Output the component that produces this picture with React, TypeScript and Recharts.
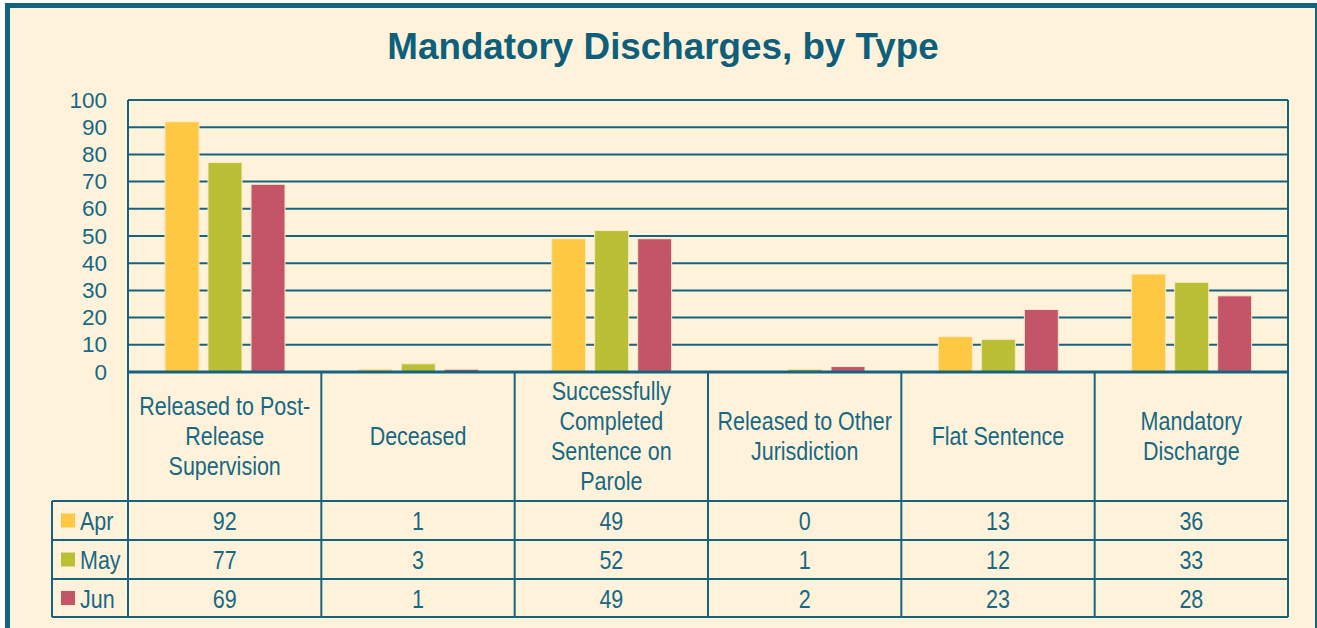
import React from 'react';
import { BarChart, Bar, XAxis, YAxis, CartesianGrid } from 'recharts';

const categories = [
  'Released to Post-Release Supervision',
  'Deceased',
  'Successfully Completed Sentence on Parole',
  'Released to Other Jurisdiction',
  'Flat Sentence',
  'Mandatory Discharge',
];
// wrapped tick labels, as printed in the table header row
const categoryLines = [
  ['Released to Post-', 'Release', 'Supervision'],
  ['Deceased'],
  ['Successfully', 'Completed', 'Sentence on', 'Parole'],
  ['Released to Other', 'Jurisdiction'],
  ['Flat Sentence'],
  ['Mandatory', 'Discharge'],
];
const seriesNames = ['Apr', 'May', 'Jun'];
const aprValues = [92, 1, 49, 0, 13, 36];
const mayValues = [77, 3, 52, 1, 12, 33];
const junValues = [69, 1, 49, 2, 23, 28];
const yTicks = [0, 10, 20, 30, 40, 50, 60, 70, 80, 90, 100];

const seriesValues = [aprValues, mayValues, junValues];
const seriesColors = ['#ffc842', '#bbbf35', '#c45468'];

const data = categories.map((name, i) => ({
  name,
  Apr: aprValues[i],
  May: mayValues[i],
  Jun: junValues[i],
}));

// layout
const W = 1317;
const H = 628;
const PLOT_L = 128;
const PLOT_R = 1288;
const PLOT_T = 100;
const AXIS_Y = 372;
const HEAD_B = 501;
const ROW_B = [540, 579, 617];
const LEGEND_L = 52;

const TEAL = '#15637f';
const TEXT = '#176885';
const BG = '#fef3da';
const SANS = '"Liberation Sans", Arial, sans-serif';

// no narrow face installed: squeeze Liberation Sans horizontally instead
const NarrowText = ({ x, y, anchor = 'middle', children }: any) => (
  <g transform={`translate(${x},${y}) scale(0.86,1)`}>
    <text x={0} y={0} textAnchor={anchor} dominantBaseline="central" fontFamily={SANS} fontSize={25} fill={TEXT}>
      {children}
    </text>
  </g>
);

const TableTick = (props: any) => {
  const { x, index } = props;
  const band = (PLOT_R - PLOT_L) / categories.length;
  const left = x - band / 2;
  const right = x + band / 2;
  const lines = categoryLines[index] || [];
  const mid = (AXIS_Y + HEAD_B) / 2;
  const lh = 30;
  const rowTops = [HEAD_B, ROW_B[0], ROW_B[1]];
  const bottom = ROW_B[ROW_B.length - 1];
  const last = index === categories.length - 1;

  return (
    <g>
      {/* cell borders */}
      <line x1={left} x2={left} y1={index === 0 ? PLOT_T : AXIS_Y} y2={bottom} stroke={TEAL} strokeWidth={2} />
      {last ? <line x1={right} x2={right} y1={PLOT_T} y2={bottom} stroke={TEAL} strokeWidth={2} /> : null}
      {[HEAD_B, ...ROW_B].map((yy) => (
        <line key={yy} x1={left} x2={right} y1={yy} y2={yy} stroke={TEAL} strokeWidth={2} />
      ))}

      {/* header label */}
      {lines.map((t, k) => (
        <NarrowText key={k} x={x} y={mid + (k - (lines.length - 1) / 2) * lh}>
          {t}
        </NarrowText>
      ))}

      {/* values */}
      {seriesValues.map((vals, s) => (
        <NarrowText key={s} x={x} y={(rowTops[s] + ROW_B[s]) / 2 + 1}>
          {vals[index]}
        </NarrowText>
      ))}

      {/* legend column, drawn once */}
      {index === 0 ? (
        <g>
          <line x1={LEGEND_L} x2={LEGEND_L} y1={HEAD_B} y2={bottom} stroke={TEAL} strokeWidth={2} />
          {[HEAD_B, ...ROW_B].map((yy) => (
            <line key={yy} x1={LEGEND_L} x2={left} y1={yy} y2={yy} stroke={TEAL} strokeWidth={2} />
          ))}
          {seriesNames.map((n, s) => {
            const cy = (rowTops[s] + ROW_B[s]) / 2;
            return (
              <g key={n}>
                <rect x={61} y={cy - 7} width={14} height={14} fill={seriesColors[s]} />
                <NarrowText x={80} y={cy + 1} anchor="start">
                  {n}
                </NarrowText>
              </g>
            );
          })}
        </g>
      ) : null}
    </g>
  );
};

const YTick = (props: any) => {
  const { y, payload } = props;
  return (
    <text x={PLOT_L - 21} y={y} textAnchor="end" dominantBaseline="central" fontFamily={SANS} fontSize={22.5} fill={TEXT}>
      {payload.value}
    </text>
  );
};

export default function App() {
  return (
    <div style={{ position: 'absolute', left: 0, top: 0, width: W, height: H, overflow: 'hidden', background: '#ffffff' }}>
      <div
        style={{
          position: 'absolute',
          left: 5,
          top: 3,
          width: 1315,
          height: 660,
          boxSizing: 'border-box',
          border: `5px solid ${TEAL}`,
          background: BG,
        }}
      />
      <div
        style={{
          position: 'absolute',
          left: 0,
          width: 1326,
          top: 29,
          textAlign: 'center',
          fontFamily: SANS,
          fontWeight: 'bold',
          fontSize: 36.8,
          lineHeight: '36px',
          color: '#0d5f7b',
        }}
      >
        Mandatory Discharges, by Type
      </div>
      <div style={{ position: 'absolute', left: 0, top: 0 }}>
        <BarChart
          width={W}
          height={H}
          data={data}
          margin={{ top: PLOT_T, right: W - PLOT_R, bottom: 10, left: PLOT_L - 60 }}
          barSize={34}
          barGap={9}
        >
          <CartesianGrid vertical={false} stroke={TEAL} strokeWidth={2} strokeOpacity={1} />
          <XAxis
            dataKey="name"
            interval={0}
            height={H - 10 - AXIS_Y}
            tickLine={false}
            axisLine={{ stroke: TEAL, strokeWidth: 3 }}
            tick={TableTick}
          />
          <YAxis
            width={60}
            domain={[0, 100]}
            ticks={yTicks}
            interval={0}
            tickLine={false}
            axisLine={false}
            tick={YTick}
          />
          {seriesNames.map((n, s) => (
            <Bar key={n} dataKey={n} fill={seriesColors[s]} stroke="#fbe9c8" strokeWidth={1} isAnimationActive={false} />
          ))}
        </BarChart>
      </div>
    </div>
  );
}
